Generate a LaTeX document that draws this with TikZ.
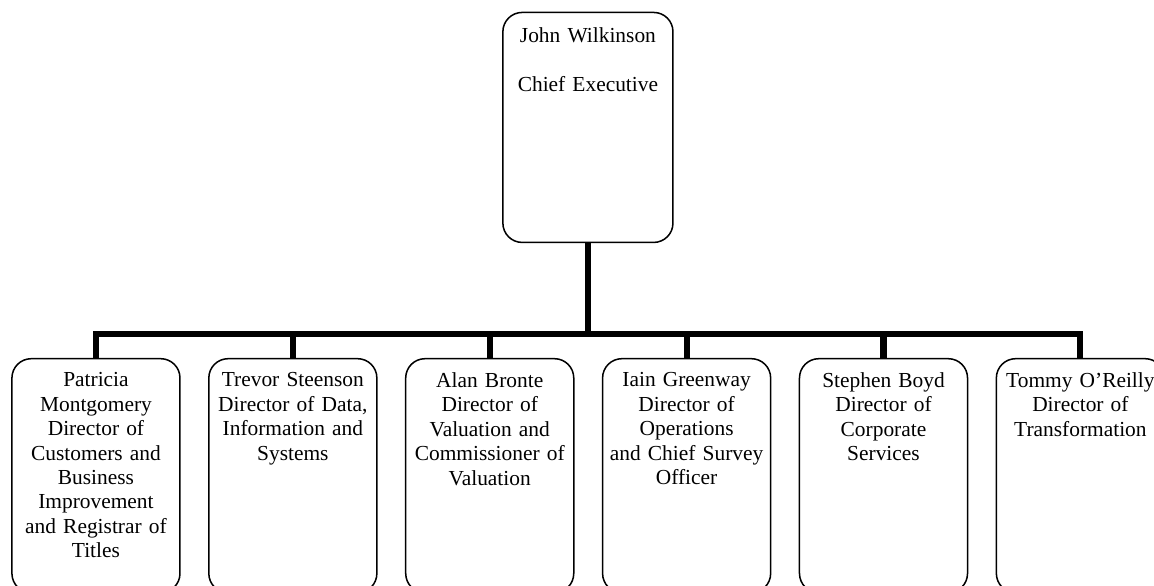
\documentclass[tikz,border=0pt]{standalone}
\usepackage{fontspec}
\setmainfont{Liberation Serif}
\usetikzlibrary{positioning}
\tikzset{
  post/.style={draw,line width=.85pt,rounded corners=.38cm,inner sep=0pt},
  postname/.style={align=center,text width=3.4cm,inner sep=0pt,anchor=north,
    font=\fontsize{12}{13.7}\selectfont},
  link/.style={line width=3.4pt}
}
\begin{document}
\begin{tikzpicture}
\useasboundingbox (0,0) rectangle (22.73,11.54);
% chief executive
\node[post,minimum width=3.35cm,minimum height=4.53cm,anchor=north] at (11.58,11.31) (ceo) {};
\node[postname] at ([yshift=-.3cm]ceo.north) (ceot) {John Wilkinson\\[\baselineskip]Chief Executive};
% directors
\foreach \i/\t in {1/{Patricia\\Montgomery\\Director of\\Customers and\\Business\\Improvement\\and Registrar of\\Titles},
  2/{Trevor Steenson\\Director of Data,\\Information and\\Systems},
  3/{Alan Bronte\\Director of\\Valuation and\\Commissioner of\\Valuation},
  4/{Iain Greenway\\Director of\\Operations\\and Chief Survey\\Officer},
  5/{Stephen Boyd\\Director of\\Corporate\\Services},
  6/{Tommy O’Reilly\\Director of\\Transformation}}{
  \node[post,minimum width=3.31cm,minimum height=4.61cm,anchor=north] at ({1.89+3.878*(\i-1)},4.49) (d\i) {};
  \node[postname] at ([yshift=-.28cm]d\i.north) (d\i t) {\t};
}
\coordinate (bar) at (11.58,4.96);
\draw[link] (ceo.south) -- (bar);
\draw[link] (d1.north) -- (d1.north |- bar) -- (d6.north |- bar) -- (d6.north);
\foreach \i in {2,...,5} \draw[link] (d\i.north |- bar) -- (d\i.north);
\end{tikzpicture}
\end{document}
